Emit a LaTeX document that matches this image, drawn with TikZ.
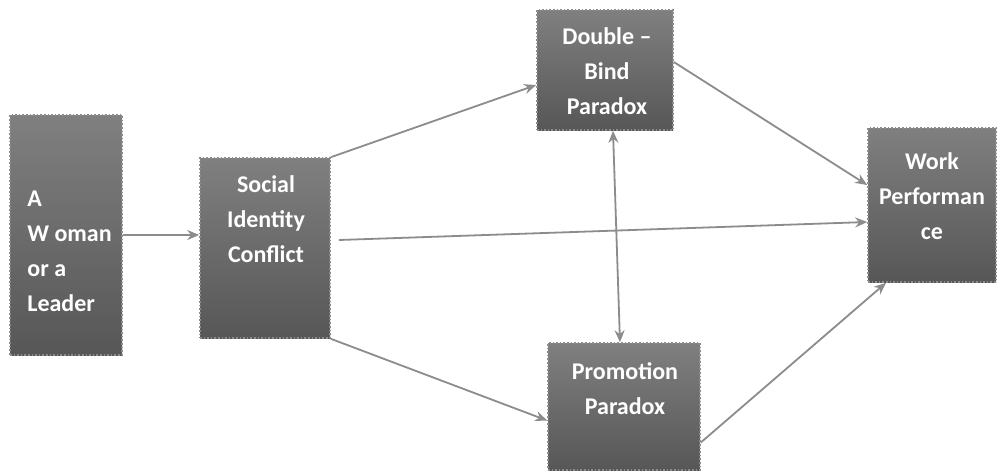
\documentclass[tikz,border=0pt]{standalone}
\usepackage{fontspec}
\setmainfont{Carlito}
\usetikzlibrary{arrows.meta,calc}
\begin{document}
\begin{tikzpicture}[x=0.5pt,y=-0.5pt,
  box/.style={rectangle, inner sep=0pt, top color=black!50, bottom color=black!66,
    draw=black!45, densely dotted, line width=0.8pt},
  lbl/.style={text=white, font=\bfseries\fontsize{12}{17.5}\selectfont, inner sep=0pt},
  conn/.style={draw=black!45, line width=0.9pt, -{Stealth[length=6pt,width=5pt]}}]
\useasboundingbox[fill=white] (0,0) rectangle (1003,473);
% boxes
\node[box, minimum width=56pt, minimum height=120pt] (a) at (66,235) {};
\node[box, minimum width=65pt, minimum height=90pt] (soc) at (265,248) {};
\node[box, minimum width=68pt, minimum height=60pt] (db) at (605,70) {};
\node[box, minimum width=76pt, minimum height=63.5pt] (pp) at (624,406.5) {};
\node[box, minimum width=64pt, minimum height=77pt] (wp) at (932,205) {};
% labels
\node[lbl, align=left, anchor=west] (la) at (27,251) {A\\W oman\\or a\\Leader};
\node[lbl, align=center] (lsoc) at (266,219) {Social\\Identity\\Conflict};
\node[lbl, align=center] (ldb) at (607,71) {Double –\\Bind\\Paradox};
\node[lbl, align=center] (lpp) at (625,389) {Promotion\\Paradox};
\node[lbl, align=center] (lwp) at (932,196) {Work\\Performan\\ce};
% connectors
\draw[conn] (a.east) -- (soc.west |- a.east);
\draw[conn] (soc.north east) -- ([yshift=-7.5pt]db.west);
\draw[conn] ([xshift=4pt,yshift=4pt]soc.east) -- ([yshift=-8.5pt]wp.west);
\draw[conn] (soc.south east) -- ([yshift=-7pt]pp.west);
\draw[conn] ([yshift=4pt]db.east) -- ([yshift=10pt]wp.west);
\draw[conn] ([yshift=-18pt]pp.east) -- ([xshift=-23pt]wp.south);
\draw[draw=black!45, line width=0.9pt, {Stealth[length=6pt,width=5pt]}-{Stealth[length=6pt,width=5pt]}]
  ([xshift=4pt]db.south) -- ([xshift=-2pt]pp.north);
\end{tikzpicture}
\end{document}
